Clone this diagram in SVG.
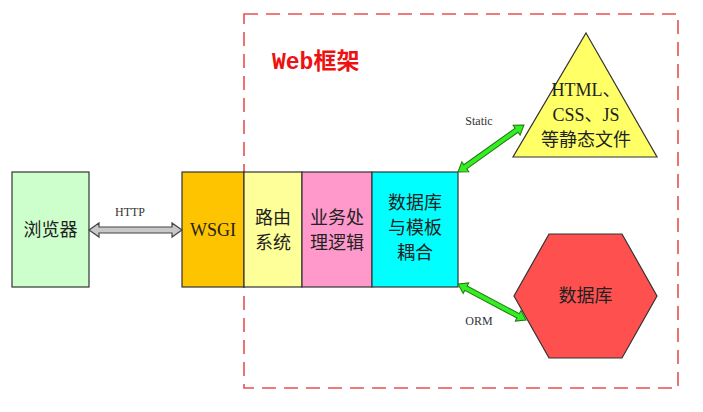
<svg xmlns="http://www.w3.org/2000/svg" width="703" height="412" viewBox="0 0 703 412">
<style>
.box{stroke:#333;stroke-width:1.2}
.cjk{font-family:"Liberation Serif","Noto Sans CJK SC",serif;font-size:18px;fill:#222;text-anchor:middle}
.lbl{font-family:"Liberation Serif",serif;font-size:12px;fill:#333;text-anchor:middle}
.garrow{fill:#33ee22;stroke:#227711;stroke-width:1}
</style>
<rect width="703" height="412" fill="#fff"/>
<g id="webframe">
<rect x="244" y="14" width="434" height="374" fill="none" stroke="#e85050" stroke-width="1.6" stroke-dasharray="14,8"/>
<text x="272" y="69" font-family="Liberation Mono,'Noto Sans CJK SC',monospace" font-size="23" font-weight="bold" fill="#ee1111">Web框架</text>
</g>
<g id="browser">
<rect class="box" x="12" y="172" width="77" height="115" fill="#ccffcc"/>
<text class="cjk" x="50.5" y="236">浏览器</text>
</g>
<g id="wsgi">
<rect class="box" x="182" y="172" width="62" height="115" fill="#ffc400"/>
<text class="cjk" x="213" y="236" font-size="19">WSGI</text>
</g>
<g id="router">
<rect class="box" x="244" y="172" width="58" height="115" fill="#ffff99"/>
<text class="cjk" x="273" y="224">路由</text>
<text class="cjk" x="273" y="249">系统</text>
</g>
<g id="logic">
<rect class="box" x="302" y="172" width="70" height="115" fill="#ff99cc"/>
<text class="cjk" x="337" y="224">业务处</text>
<text class="cjk" x="337" y="249">理逻辑</text>
</g>
<g id="coupling">
<rect class="box" x="372" y="172" width="86" height="115" fill="#00ffff"/>
<text class="cjk" x="415" y="209">数据库</text>
<text class="cjk" x="415" y="234">与模板</text>
<text class="cjk" x="415" y="259">耦合</text>
</g>
<g id="static">
<polygon class="box" points="586,33 657,157 513,157" fill="#ffff66"/>
<text class="cjk" x="586" y="96">HTML、</text>
<text class="cjk" x="586" y="121">CSS、JS</text>
<text class="cjk" x="586" y="146">等静态文件</text>
</g>
<g id="database">
<polygon class="box" points="549,234 622,234 657,296 622,358 549,358 514,296" fill="#ff5050"/>
<text class="cjk" x="585.5" y="302">数据库</text>
</g>
<g id="connectors">
<polygon points="89,230 99,223 99,227 172,227 172,223 182,230 172,237 172,233 99,233 99,237" fill="#c8c8c8" stroke="#444" stroke-width="1.2"/>
<text class="lbl" x="130" y="216">HTTP</text>
<g transform="translate(458,172) rotate(-35.5)">
<polygon class="garrow" points="0,0 9,-6 9,-2.5 72,-2.5 72,-6 81,0 72,6 72,2.5 9,2.5 9,6"/>
</g>
<text class="lbl" x="479" y="125">Static</text>
<g transform="translate(458,284) rotate(27.9)">
<polygon class="garrow" points="0,0 9,-6 9,-2.5 68,-2.5 68,-6 77,0 68,6 68,2.5 9,2.5 9,6"/>
</g>
<text class="lbl" x="479" y="325">ORM</text>
</g>
</svg>
